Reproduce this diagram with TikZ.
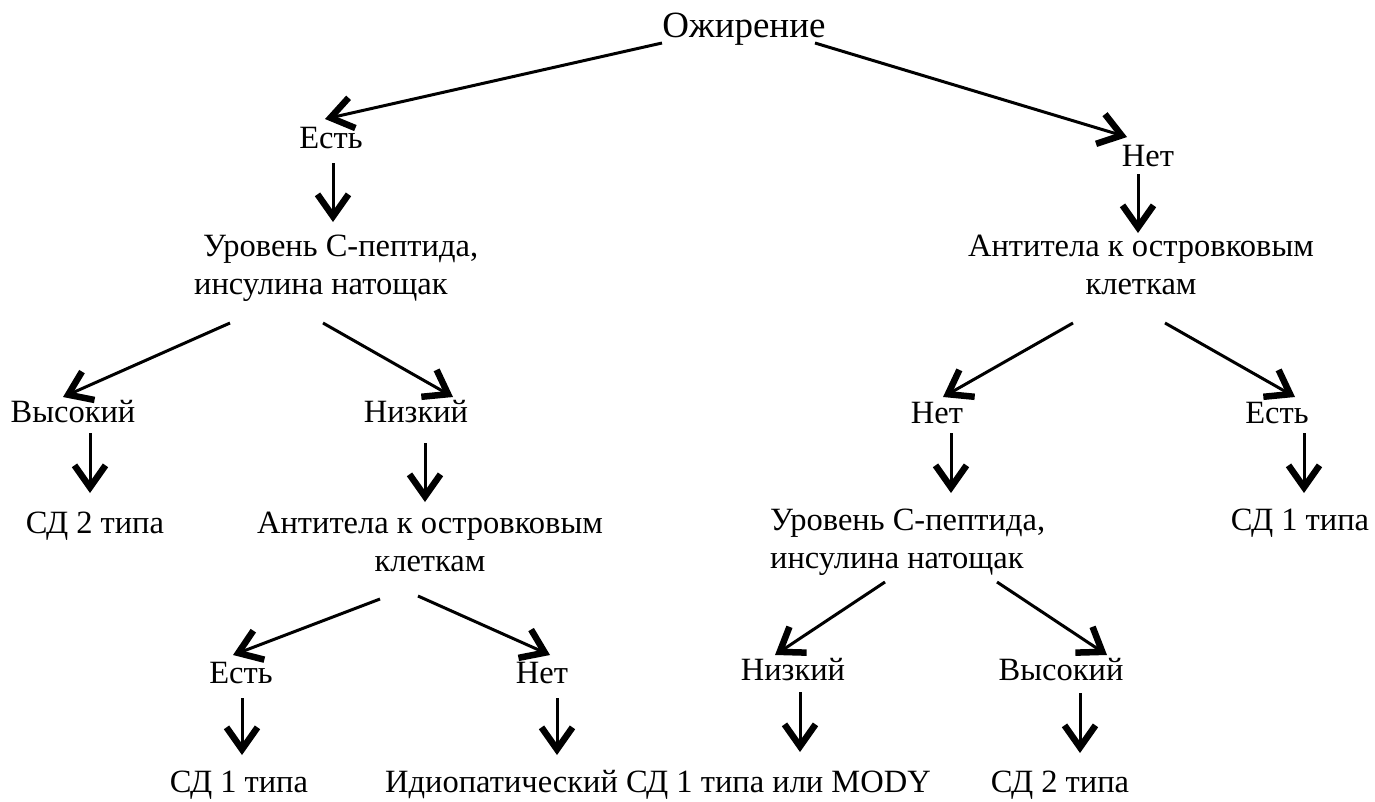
\documentclass[tikz,border=0pt]{standalone}
\usepackage{fontspec}
\setmainfont{Liberation Serif}
\usetikzlibrary{arrows.meta}
\begin{document}
\begin{tikzpicture}[x=1pt,y=-1pt,
  lbl/.style={inner sep=0pt, anchor=base, font=\fontsize{32.5}{38}\selectfont},
  arr/.style={line width=3pt, -{Straight Barb[length=22pt,width=31pt,line width=6.5pt]}}]
\useasboundingbox (0,0) rectangle (1375,801);
% nodes
\node[lbl, font=\fontsize{37}{40}\selectfont] (ozh) at (744,37) {Ожирение};
\node[lbl] (es1) at (331,148) {Есть};
\node[lbl] (net1) at (1148,166) {Нет};
\node[lbl, anchor=base west] (ur1) at (194,256) {\begin{tabular}[t]{@{}l@{}}\hspace*{9pt}Уровень С-пептида,\\инсулина натощак\end{tabular}};
\node[lbl] (at1) at (1141,256) {\begin{tabular}[t]{@{}c@{}}Антитела к островковым\\клеткам\end{tabular}};
\node[lbl] (vys1) at (73,422) {Высокий};
\node[lbl] (niz1) at (416,422) {Низкий};
\node[lbl] (net2) at (937,423) {Нет};
\node[lbl] (es2) at (1277,423) {Есть};
\node[lbl] (sd2a) at (95,533) {СД 2 типа};
\node[lbl] (at2) at (430,533) {\begin{tabular}[t]{@{}c@{}}Антитела к островковым\\клеткам\end{tabular}};
\node[lbl, anchor=base west] (ur2) at (770,530) {\begin{tabular}[t]{@{}l@{}}Уровень С-пептида,\\инсулина натощак\end{tabular}};
\node[lbl] (sd1a) at (1300,530) {СД 1 типа};
\node[lbl] (es3) at (241,683) {Есть};
\node[lbl] (net3) at (542,683) {Нет};
\node[lbl] (niz2) at (793,680) {Низкий};
\node[lbl] (vys2) at (1061,680) {Высокий};
\node[lbl] (sd1b) at (239,792) {СД 1 типа};
\node[lbl] (idio) at (658,792) {Идиопатический СД 1 типа или MODY};
\node[lbl] (sd2b) at (1060,792) {СД 2 типа};
% connector end points
\coordinate (ozhL) at (662,43);   \coordinate (es1T) at (325,119);
\coordinate (ozhR) at (815,43);   \coordinate (net1T) at (1127,137);
\coordinate (es1B) at (333,163);  \coordinate (ur1T) at (333,222);
\coordinate (net1B) at (1138,174); \coordinate (at1T) at (1138,233);
\coordinate (ur1L) at (230,323);  \coordinate (vys1T) at (63,397);
\coordinate (ur1R) at (323,323);  \coordinate (niz1T) at (453,397);
\coordinate (at1L) at (1073,323); \coordinate (net2T) at (943,397);
\coordinate (at1R) at (1165,323); \coordinate (es2T) at (1295,397);
\coordinate (vys1B) at (90,433);  \coordinate (sd2aT) at (90,493);
\coordinate (niz1B) at (425,443); \coordinate (at2T) at (425,502);
\coordinate (net2B) at (951,433); \coordinate (ur2T) at (951,493);
\coordinate (es2B) at (1304,433); \coordinate (sd1aT) at (1304,493);
\coordinate (at2L) at (380,599);  \coordinate (es3T) at (233,655);
\coordinate (at2R) at (418,596);  \coordinate (net3T) at (550,655);
\coordinate (ur2L) at (885,582);  \coordinate (niz2T) at (775,655);
\coordinate (ur2R) at (997,582);  \coordinate (vys2T) at (1107,655);
\coordinate (es3B) at (242,698);  \coordinate (sd1bT) at (242,755);
\coordinate (net3B) at (557,698); \coordinate (idioT1) at (557,755);
\coordinate (niz2B) at (800,692); \coordinate (idioT2) at (800,752);
\coordinate (vys2B) at (1080,693); \coordinate (sd2bT) at (1080,753);
% connectors
\draw[arr] (ozhL) -- (es1T);
\draw[arr] (ozhR) -- (net1T);
\draw[arr] (es1B) -- (ur1T);
\draw[arr] (net1B) -- (at1T);
\draw[arr] (ur1L) -- (vys1T);
\draw[arr] (ur1R) -- (niz1T);
\draw[arr] (at1L) -- (net2T);
\draw[arr] (at1R) -- (es2T);
\draw[arr] (vys1B) -- (sd2aT);
\draw[arr] (niz1B) -- (at2T);
\draw[arr] (net2B) -- (ur2T);
\draw[arr] (es2B) -- (sd1aT);
\draw[arr] (at2L) -- (es3T);
\draw[arr] (at2R) -- (net3T);
\draw[arr] (ur2L) -- (niz2T);
\draw[arr] (ur2R) -- (vys2T);
\draw[arr] (es3B) -- (sd1bT);
\draw[arr] (net3B) -- (idioT1);
\draw[arr] (niz2B) -- (idioT2);
\draw[arr] (vys2B) -- (sd2bT);
\end{tikzpicture}
\end{document}
